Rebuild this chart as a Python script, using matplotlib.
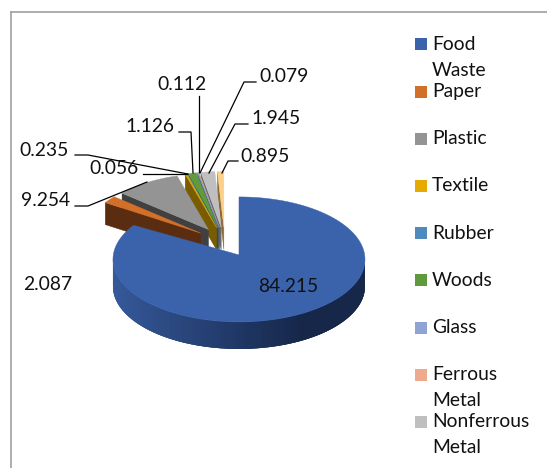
import numpy as np
import matplotlib
matplotlib.use('Agg')
import matplotlib.pyplot as plt
from matplotlib.patches import Polygon, Rectangle
from matplotlib.collections import PolyCollection
from matplotlib.colors import to_rgb

# Given data
categories = ['Food\nWaste', 'Paper', 'Plastic', 'Textile', 'Rubber', 'Woods', 'Glass',
              'Ferrous\nMetal', 'Nonferrous\nMetal']
values = [84.215, 2.087, 9.254, 0.235, 0.056, 1.126, 0.112, 0.079, 1.945, 0.895]
value_labels = ['84.215', '2.087', '9.254', '0.235', '0.056', '1.126', '0.112', '0.079', '1.945', '0.895']

# Colours
top_colors = ['#3a63ab', '#d2702a', '#949494', '#e5ab00', '#4e8abe', '#5f9b3d',
              '#8fa3d5', '#f0a98c', '#bfbfbf', '#fdd08a']
side_colors = ['#1f3560', '#5a2d10', '#404040', '#7a5c00', '#2a4a68', '#33561f',
               '#4f5a7a', '#8a5a44', '#6a6a6a', '#8a6d3a']

plt.rcParams['font.family'] = ['Lato', 'DejaVu Sans']
text_size = 13.9

fig = plt.figure(figsize=(5.47, 4.68), dpi=100)
ax = fig.add_axes([0, 0, 1, 1])
ax.set_xlim(0, 547)
ax.set_ylim(468, 0)
ax.axis('off')

# frame of the chart area
ax.plot([11, 11], [468, 12], color='#a0a0a0', lw=1.2)
ax.plot([11, 547], [12, 12], color='#a0a0a0', lw=1.2)

# pie geometry (angles run clockwise from 12 o'clock)
cx, cy = 224.7, 242
explode = 30
tilt = 0.49
small_r = 114
food_r = 126
food_ry = 62.5
food_drop = 4.5
small_depth = 22
food_depth = 27

shares = np.array(values) / sum(values) * 2 * np.pi
ends = np.cumsum(shares)
starts = ends - shares


def rim(a0, a1, ox, oy, rx, ry):
    t = np.linspace(a0, a1, max(int(np.degrees(a1 - a0)) + 2, 3))
    return np.column_stack([ox + rx * np.sin(t), oy - ry * np.cos(t)])


# draw back to front, food waste comes last
for i in range(len(values) - 1, -1, -1):
    mid = (starts[i] + ends[i]) / 2
    ox = cx + explode * np.sin(mid)
    oy = cy - explode * tilt * np.cos(mid)
    if i == 0:
        # outer wall, shaded from left to right, quads overlap to hide seams
        t = np.radians(np.linspace(90, 270, 121))
        x = ox + food_r * np.sin(t)
        y = oy + food_drop - food_ry * np.cos(t)
        quads = []
        shade = []
        left = np.array(to_rgb('#35599b'))
        right = np.array(to_rgb('#16274a'))
        for k in range(len(t) - 1):
            n = min(k + 3, len(t) - 1)
            quads.append(np.vstack([np.column_stack([x[k:n + 1], y[k:n + 1]]),
                                    np.column_stack([x[k:n + 1], y[k:n + 1] + food_depth])[::-1]]))
            shade.append(left + (right - left) * min((x[k] - 113) / 190, 1))
        ax.add_collection(PolyCollection(quads, facecolors=shade, edgecolors='none'))
        pts = rim(starts[i], ends[i], ox, oy + food_drop, food_r, food_ry)
    else:
        pts = rim(starts[i], ends[i], ox, oy, small_r, small_r * tilt)
        # cut face below the leading edge
        face = [(ox, oy), tuple(pts[0]), (pts[0][0], pts[0][1] + small_depth), (ox, oy + small_depth)]
        ax.add_patch(Polygon(face, closed=True, facecolor=side_colors[i], edgecolor=side_colors[i], lw=0.3))
    ax.add_patch(Polygon(np.vstack([[ox, oy], pts]), closed=True, facecolor=top_colors[i],
                         edgecolor=top_colors[i], lw=0.3))

# value labels
label_pos = [(288, 287), (48, 284), (46, 201), (44, 150), (114, 169), (150, 127),
             (182, 84), (284, 77), (276, 119), (265, 156)]
for lab, (lx, ly) in zip(value_labels, label_pos):
    ax.text(lx, ly, lab, ha='center', va='center', fontsize=text_size, color='#111111')

# leader lines
leaders = [
    [(75, 206), (88, 206), (147, 182)],
    [(75, 155), (88, 155), (188, 174)],
    [(143, 174), (187, 174)],
    [(179, 132), (191, 132), (193, 173)],
    [(199, 96), (199, 172)],
    [(256, 82), (244, 82), (200, 173)],
    [(248, 124), (235, 124), (209, 173)],
    [(238, 161), (228, 161), (222, 173)],
]
for line in leaders:
    xs, ys = zip(*line)
    ax.plot(xs, ys, color='black', lw=0.9)

# legend
for i, name in enumerate(categories):
    y = 44.3 + 47.2 * i
    ax.add_patch(Rectangle((415, y - 6), 12, 12, facecolor=top_colors[i], edgecolor='none'))
    for j, part in enumerate(name.split('\n')):
        ax.text(432, y + j * 26, part, ha='left', va='center', fontsize=text_size, color='#111111')

fig.savefig('out.png', dpi=100)
